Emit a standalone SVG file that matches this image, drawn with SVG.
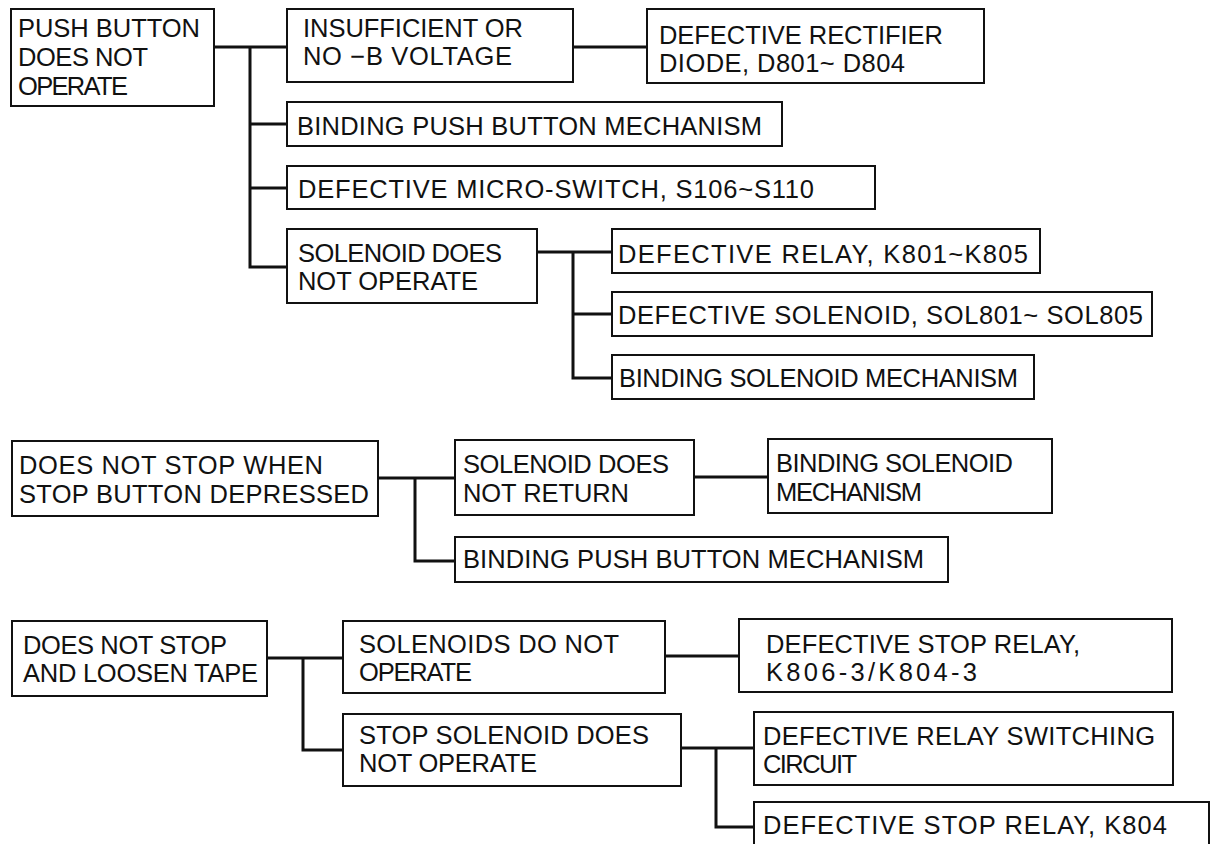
<svg xmlns="http://www.w3.org/2000/svg" width="1210" height="844" viewBox="0 0 1210 844">
<style>
.bx{fill:#fff;stroke:#111;stroke-width:2}
.cn{fill:none;stroke:#111;stroke-width:3;stroke-linejoin:miter;stroke-linecap:butt}
text{font-family:"Liberation Sans",Arial,sans-serif;font-size:25.5px;fill:#111}
</style>
<rect width="1210" height="844" fill="#fff"/>
<g id="connectors">
<path class="cn" d="M214 47H287M250 47V267H287M250 124H287M250 188H287"/>
<path class="cn" d="M573 47H647"/>
<path class="cn" d="M537 252H612M573 252V378H612M573 314H612"/>
<path class="cn" d="M378 478H455M415 478V561H455"/>
<path class="cn" d="M694 477H768"/>
<path class="cn" d="M267 658H343M303 658V750H343"/>
<path class="cn" d="M665 656H739"/>
<path class="cn" d="M681 748H754M716 748V827H754"/>
</g>
<g id="n1"><rect class="bx" x="11" y="9" width="203" height="97"/>
<text x="18" y="37" textLength="182" lengthAdjust="spacing">PUSH BUTTON</text>
<text x="18" y="66" textLength="130" lengthAdjust="spacing">DOES NOT</text>
<text x="18" y="95" textLength="110" lengthAdjust="spacing">OPERATE</text></g>
<g id="n2"><rect class="bx" x="287" y="9" width="286" height="73"/>
<text x="303" y="37" textLength="220" lengthAdjust="spacing">INSUFFICIENT OR</text>
<text x="303" y="65" textLength="209" lengthAdjust="spacing">NO −B VOLTAGE</text></g>
<g id="n3"><rect class="bx" x="647" y="9" width="337" height="74"/>
<text x="659" y="44" textLength="284" lengthAdjust="spacing">DEFECTIVE RECTIFIER</text>
<text x="659" y="72" textLength="246" lengthAdjust="spacing">DIODE, D801~ D804</text></g>
<g id="n4"><rect class="bx" x="287" y="102" width="495" height="44"/>
<text x="297" y="135" textLength="465" lengthAdjust="spacing">BINDING PUSH BUTTON MECHANISM</text></g>
<g id="n5"><rect class="bx" x="287" y="166" width="588" height="43"/>
<text x="298" y="198" textLength="516" lengthAdjust="spacing">DEFECTIVE MICRO-SWITCH, S106~S110</text></g>
<g id="n6"><rect class="bx" x="287" y="229" width="250" height="74"/>
<text x="298" y="262" textLength="204" lengthAdjust="spacing">SOLENOID DOES</text>
<text x="298" y="290" textLength="180" lengthAdjust="spacing">NOT OPERATE</text></g>
<g id="n7"><rect class="bx" x="612" y="229" width="428" height="44"/>
<text x="618" y="263" textLength="410" lengthAdjust="spacing">DEFECTIVE RELAY, K801~K805</text></g>
<g id="n8"><rect class="bx" x="612" y="292" width="540" height="44"/>
<text x="618" y="324" textLength="525" lengthAdjust="spacing">DEFECTIVE SOLENOID, SOL801~ SOL805</text></g>
<g id="n9"><rect class="bx" x="612" y="355" width="422" height="44"/>
<text x="619" y="387" textLength="399" lengthAdjust="spacing">BINDING SOLENOID MECHANISM</text></g>
<g id="n10"><rect class="bx" x="12" y="441" width="366" height="75"/>
<text x="19" y="474" textLength="304" lengthAdjust="spacing">DOES NOT STOP WHEN</text>
<text x="19" y="503" textLength="350" lengthAdjust="spacing">STOP BUTTON DEPRESSED</text></g>
<g id="n11"><rect class="bx" x="455" y="440" width="239" height="75"/>
<text x="463" y="473" textLength="206" lengthAdjust="spacing">SOLENOID DOES</text>
<text x="463" y="502" textLength="166" lengthAdjust="spacing">NOT RETURN</text></g>
<g id="n12"><rect class="bx" x="768" y="439" width="284" height="74"/>
<text x="776" y="472" textLength="237" lengthAdjust="spacing">BINDING SOLENOID</text>
<text x="776" y="501" textLength="146" lengthAdjust="spacing">MECHANISM</text></g>
<g id="n13"><rect class="bx" x="455" y="537" width="493" height="45"/>
<text x="463" y="568" textLength="461" lengthAdjust="spacing">BINDING PUSH BUTTON MECHANISM</text></g>
<g id="n14"><rect class="bx" x="12" y="621" width="255" height="75"/>
<text x="23" y="654" textLength="204" lengthAdjust="spacing">DOES NOT STOP</text>
<text x="23" y="682" textLength="235" lengthAdjust="spacing">AND LOOSEN TAPE</text></g>
<g id="n15"><rect class="bx" x="343" y="621" width="322" height="72"/>
<text x="359" y="653" textLength="260" lengthAdjust="spacing">SOLENOIDS DO NOT</text>
<text x="359" y="681" textLength="113" lengthAdjust="spacing">OPERATE</text></g>
<g id="n16"><rect class="bx" x="739" y="619" width="433" height="73"/>
<text x="766" y="653" textLength="314" lengthAdjust="spacing">DEFECTIVE STOP RELAY,</text>
<text x="766" y="681" textLength="211" lengthAdjust="spacing">K806-3/K804-3</text></g>
<g id="n17"><rect class="bx" x="343" y="714" width="338" height="72"/>
<text x="359" y="744" textLength="290" lengthAdjust="spacing">STOP SOLENOID DOES</text>
<text x="359" y="772" textLength="178" lengthAdjust="spacing">NOT OPERATE</text></g>
<g id="n18"><rect class="bx" x="754" y="712" width="419" height="73"/>
<text x="763" y="745" textLength="392" lengthAdjust="spacing">DEFECTIVE RELAY SWITCHING</text>
<text x="763" y="773" textLength="94" lengthAdjust="spacing">CIRCUIT</text></g>
<g id="n19"><rect class="bx" x="754" y="802" width="455" height="60"/>
<text x="763" y="834" textLength="404" lengthAdjust="spacing">DEFECTIVE STOP RELAY, K804</text></g>
</svg>
